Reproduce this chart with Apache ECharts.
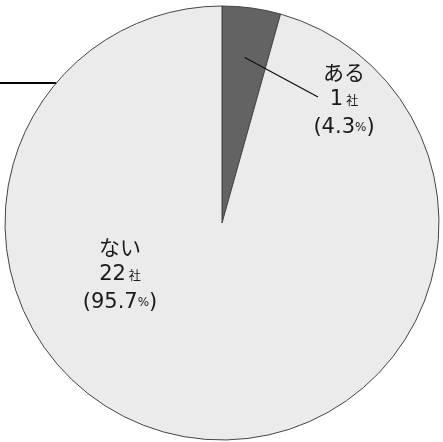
<!DOCTYPE html>
<html><head><meta charset="utf-8">
<script src="https://cdn.jsdelivr.net/npm/echarts@6/dist/echarts.min.js"></script>
<style>html,body{margin:0;padding:0;background:#fff}#c{width:443px;height:442px}</style>
</head><body><div id="c"></div>
<script>
const categories = ['ある', 'ない'];
const counts = [1, 22];
const percents = ['4.3', '95.7'];

const CX = 222, CY = 223, R = 217;
const total = counts.reduce((a, b) => a + b, 0);
const labelPos = [[344, 100], [120, 275]];

function midAngle(i) {
  let acc = 0;
  for (let k = 0; k < i; k++) acc += counts[k];
  const frac = (acc + counts[i] / 2) / total;
  return (90 - frac * 360) * Math.PI / 180;
}

const FONT = '"DejaVu Sans", "Noto Sans CJK JP", sans-serif';
const rich = {
  t: {fontSize: 21, lineHeight: 28, color: '#1a1a1a', fontFamily: FONT},
  k: {fontSize: 21, lineHeight: 28, color: '#1a1a1a', fontFamily: '"Noto Sans CJK JP"'},
  s: {fontSize: 12, lineHeight: 28, color: '#1a1a1a', fontFamily: '"Noto Sans CJK JP"', padding: [0, 0, 0, 3]},
  p: {fontSize: 12, lineHeight: 28, color: '#1a1a1a', fontFamily: FONT}
};

const a0 = midAngle(0);
const lsx = CX + R * 0.77 * Math.cos(a0), lsy = CY - R * 0.77 * Math.sin(a0);
const lex = labelPos[0][0] - 26, ley = labelPos[0][1] - 3;

const chart = echarts.init(document.getElementById('c'), null, {renderer: 'canvas'});
chart.setOption({
  animation: false,
  series: [{
    type: 'pie',
    center: [CX, CY],
    radius: [0, R],
    startAngle: 90,
    clockwise: true,
    avoidLabelOverlap: false,
    itemStyle: {borderColor: '#444', borderWidth: 1},
    label: {
      show: true,
      position: 'inside',
      formatter: p => '{k|' + categories[p.dataIndex] + '}\n{t|' + counts[p.dataIndex] + '}{s|社}\n{t|(' + percents[p.dataIndex] + '}{p|%}{t|)}',
      rich: rich
    },
    labelLine: {show: false},
    labelLayout: function (params) {
      const [lx, ly] = labelPos[params.dataIndex];
      return {x: lx, y: ly, align: 'center', verticalAlign: 'middle'};
    },
    data: categories.map((c, i) => ({
      name: c, value: counts[i],
      itemStyle: {color: i === 0 ? '#636363' : '#ebebeb'}
    }))
  }],
  graphic: [{
    type: 'line', z: 10,
    shape: {x1: 0, y1: 83, x2: CX - Math.sqrt(R * R - (CY - 83) * (CY - 83)), y2: 83},
    style: {stroke: '#000', lineWidth: 2}
  }, {
    type: 'line', z: 10,
    shape: {x1: lsx, y1: lsy, x2: lex, y2: ley},
    style: {stroke: '#111', lineWidth: 1.3}
  }]
});
</script></body></html>
